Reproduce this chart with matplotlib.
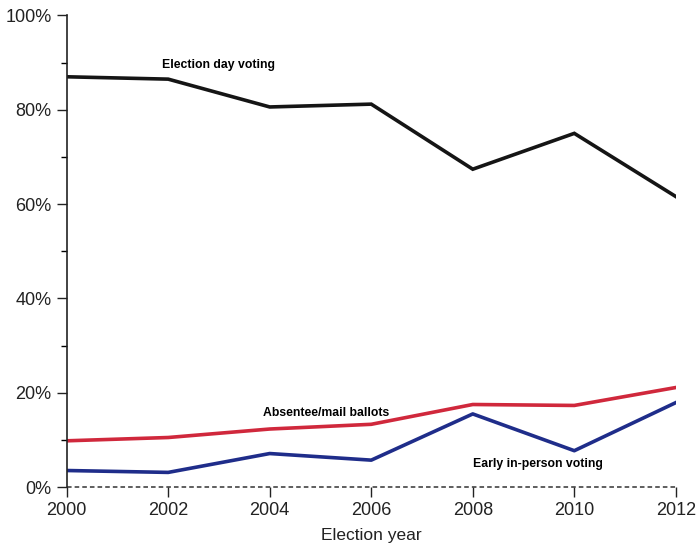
import matplotlib
matplotlib.use("Agg")
import matplotlib.pyplot as plt
from matplotlib.ticker import MultipleLocator, FuncFormatter

years = [2000, 2002, 2004, 2006, 2008, 2010, 2012]
election_day = [87.0, 86.5, 80.6, 81.2, 67.4, 75.0, 61.6]
absentee = [9.8, 10.5, 12.3, 13.3, 17.5, 17.3, 21.1]
early = [3.5, 3.1, 7.1, 5.7, 15.5, 7.7, 17.9]

plt.rcParams['font.family'] = ['Liberation Sans', 'DejaVu Sans']

fig = plt.figure(figsize=(6.96, 5.49), dpi=100)
ax = fig.add_axes([0.0958, 0.1129, 0.8752, 0.8589])

ax.plot(years, election_day, color='#151515', lw=2.6, solid_joinstyle='miter')
ax.plot(years, absentee, color='#d0283c', lw=2.6)
ax.plot(years, early, color='#1f2d8a', lw=2.6)
ax.axhline(0, color='#333333', lw=1.1, ls=(0, (3, 2)), clip_on=False)

ax.set_xlim(2000, 2012)
ax.set_ylim(0, 100)
ax.set_xticks(years)
ax.yaxis.set_major_locator(MultipleLocator(20))
ax.yaxis.set_minor_locator(MultipleLocator(10))
ax.yaxis.set_major_formatter(FuncFormatter(lambda v, p: f"{int(v)}%"))

for s in ['top', 'right', 'bottom']:
    ax.spines[s].set_visible(False)
ax.spines['left'].set_linewidth(1.2)
ax.spines['left'].set_color('#222222')
ax.tick_params(axis='y', which='major', length=7, width=1.0, labelsize=13, pad=4, colors='#222222')
ax.tick_params(axis='y', which='minor', length=4, width=1.0)
ax.tick_params(axis='x', length=7, width=1.0, labelsize=13, pad=4, colors='#222222')

ax.set_xlabel('Election year', fontsize=12.5, labelpad=6, color='#222222')

ax.text(2003.0, 89.5, 'Election day voting', fontsize=8.8, fontweight='bold', ha='center', va='center')
ax.text(2005.12, 15.6, 'Absentee/mail ballots', fontsize=8.8, fontweight='bold', ha='center', va='center')
ax.text(2009.28, 4.9, 'Early in-person voting', fontsize=8.8, fontweight='bold', ha='center', va='center')

fig.savefig('out.png', dpi=100)
